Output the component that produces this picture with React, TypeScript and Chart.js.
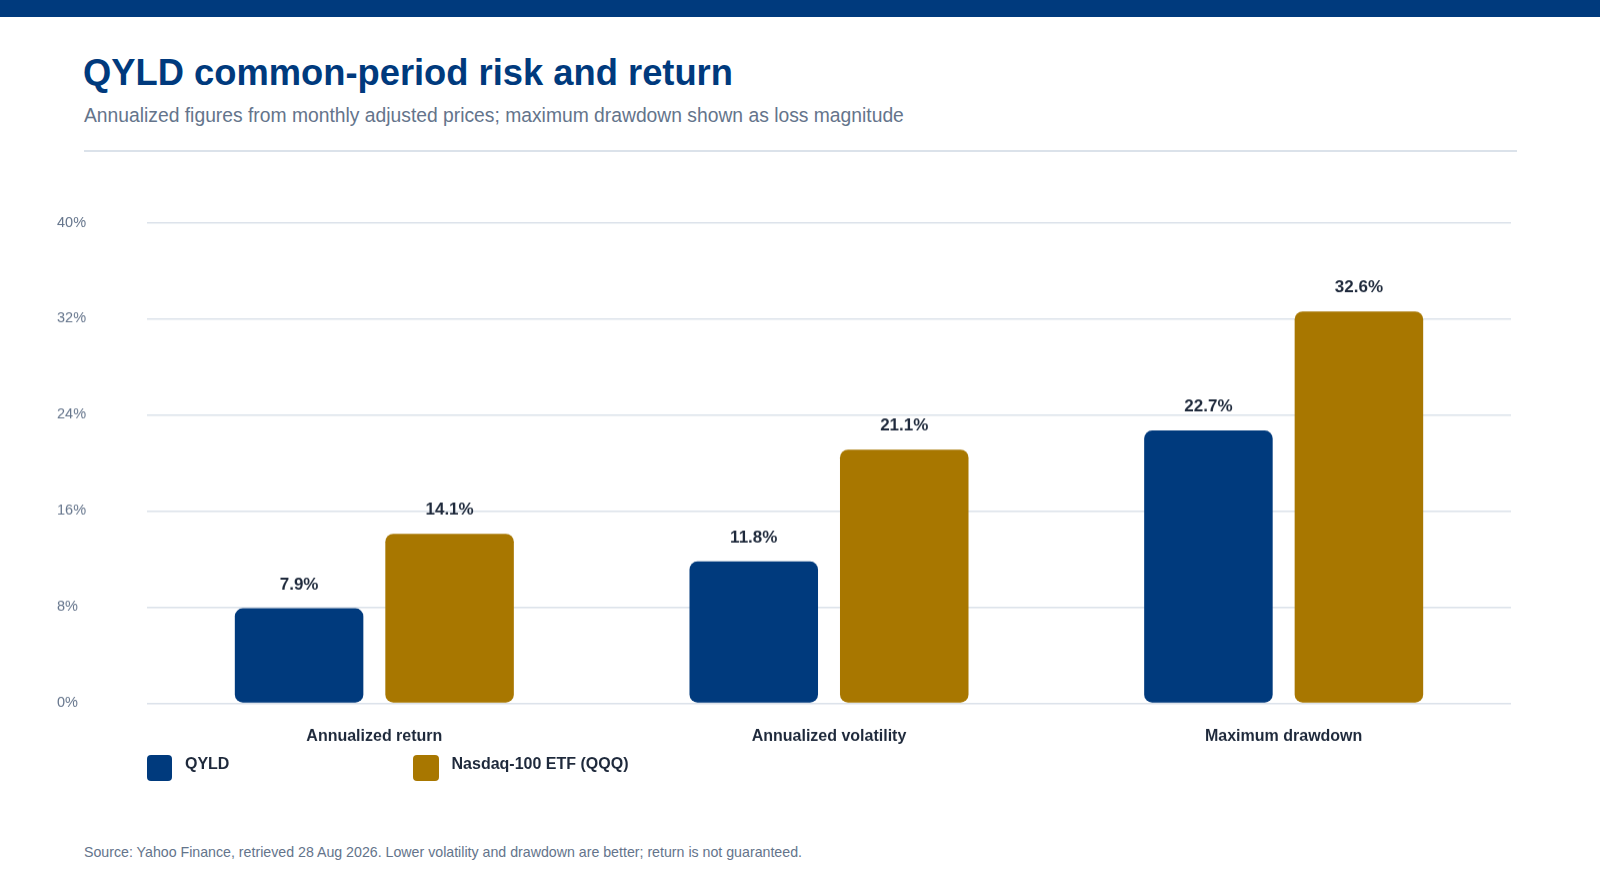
import { useEffect, useRef } from "react";
import { Chart, registerables } from "chart.js";

Chart.register(...registerables);

const categories = ["Annualized return", "Annualized volatility", "Maximum drawdown"];
const seriesNames = ["QYLD", "Nasdaq-100 ETF (QQQ)"];
const qyldValues = [7.9, 11.8, 22.7];
const qqqValues = [14.1, 21.1, 32.6];
const yTicks = [0, 8, 16, 24, 32, 40];

const NAVY = "#003a7d";
const GOLD = "#a87700";
const DARK = "#1e293b";
const MUTED = "#64748b";
const GRID = "#dbe2ea";
const FONT = "'Liberation Sans', Arial, Helvetica, sans-serif";

// value labels above each bar
const valueLabels = {
  id: "valueLabels",
  afterDatasetsDraw(chart: any) {
    const { ctx } = chart;
    ctx.save();
    ctx.font = `bold 17px ${FONT}`;
    ctx.fillStyle = DARK;
    ctx.textAlign = "center";
    ctx.textBaseline = "middle";
    chart.data.datasets.forEach((ds: any, i: number) => {
      chart.getDatasetMeta(i).data.forEach((bar: any, j: number) => {
        ctx.fillText(ds.data[j].toFixed(1) + "%", bar.x, bar.y - 23.5);
      });
    });
    ctx.restore();
  },
};

export default function App() {
  const chartRef = useRef<HTMLCanvasElement | null>(null);
  const chartInstanceRef = useRef<Chart | null>(null);

  useEffect(() => {
    if (!chartRef.current) return;
    const ctx = chartRef.current.getContext("2d");
    if (!ctx) return;

    if (chartInstanceRef.current) {
      chartInstanceRef.current.destroy();
    }

    chartInstanceRef.current = new Chart(ctx, {
      type: "bar",
      data: {
        labels: categories,
        datasets: [
          {
            label: seriesNames[0],
            data: qyldValues,
            backgroundColor: NAVY,
            borderRadius: 8,
            borderSkipped: false,
          },
          {
            label: seriesNames[1],
            data: qqqValues,
            backgroundColor: GOLD,
            borderRadius: 8,
            borderSkipped: false,
          },
        ],
      },
      options: {
        responsive: true,
        maintainAspectRatio: false,
        animation: false,
        categoryPercentage: 0.662,
        barPercentage: 0.854,
        layout: { padding: { top: 22.5, bottom: 14.7, left: 0, right: 0 } },
        scales: {
          x: {
            grid: { display: false, drawTicks: false },
            border: { display: false },
            ticks: {
              color: DARK,
              padding: 23.6,
              font: { family: FONT, size: 16, weight: "bold" },
            },
          },
          y: {
            min: 0,
            max: 40,
            afterFit(scale: any) {
              scale.width = 90;
            },
            afterBuildTicks(scale: any) {
              scale.ticks = yTicks.map((v) => ({ value: v }));
            },
            grid: { color: GRID, lineWidth: 1.5, drawTicks: false },
            border: { display: false },
            ticks: {
              color: MUTED,
              crossAlign: "far",
              font: { family: FONT, size: 14.5 },
              callback: (v: any) => v + "%",
            },
          },
        },
        plugins: {
          legend: { display: false },
          tooltip: { enabled: false },
        },
      },
      plugins: [valueLabels],
    });

    return () => {
      chartInstanceRef.current?.destroy();
    };
  }, []);

  const colors = [NAVY, GOLD];

  return (
    <div
      style={{
        position: "absolute",
        left: 0,
        top: 0,
        width: 1600,
        height: 889,
        background: "#ffffff",
        fontFamily: FONT,
        overflow: "hidden",
      }}
    >
      <div style={{ position: "absolute", left: 0, top: 0, width: 1600, height: 17, background: NAVY }} />
      <div
        style={{
          position: "absolute",
          left: 83,
          top: 55,
          fontSize: 36.35,
          lineHeight: "36px",
          fontWeight: "bold",
          color: NAVY,
          whiteSpace: "nowrap",
        }}
      >
        QYLD common-period risk and return
      </div>
      <div
        style={{
          position: "absolute",
          left: 84,
          top: 106,
          fontSize: 19.3,
          lineHeight: "19px",
          color: MUTED,
          whiteSpace: "nowrap",
        }}
      >
        Annualized figures from monthly adjusted prices; maximum drawdown shown as loss magnitude
      </div>
      <div style={{ position: "absolute", left: 84, top: 150, width: 1433, height: 1.5, background: GRID }} />
      <div style={{ position: "absolute", left: 57, top: 200, width: 1454, height: 583.5 }}>
        <canvas ref={chartRef}></canvas>
      </div>
      <div style={{ position: "absolute", left: 146.7, top: 753.5, display: "flex" }}>
        {seriesNames.map((name, i) => (
          <div key={name} style={{ width: 266.6, display: "flex", alignItems: "flex-start" }}>
            <div
              style={{
                width: 25.6,
                height: 26,
                marginTop: 1.5,
                borderRadius: 4,
                background: colors[i],
                marginRight: 12.7,
              }}
            />
            <span style={{ fontSize: 16, lineHeight: "20px", fontWeight: "bold", color: DARK }}>{name}</span>
          </div>
        ))}
      </div>
      <div
        style={{
          position: "absolute",
          left: 84,
          top: 845,
          fontSize: 14.2,
          lineHeight: "14px",
          color: MUTED,
          whiteSpace: "nowrap",
        }}
      >
        Source: Yahoo Finance, retrieved 28 Aug 2026. Lower volatility and drawdown are better; return is not guaranteed.
      </div>
    </div>
  );
}
